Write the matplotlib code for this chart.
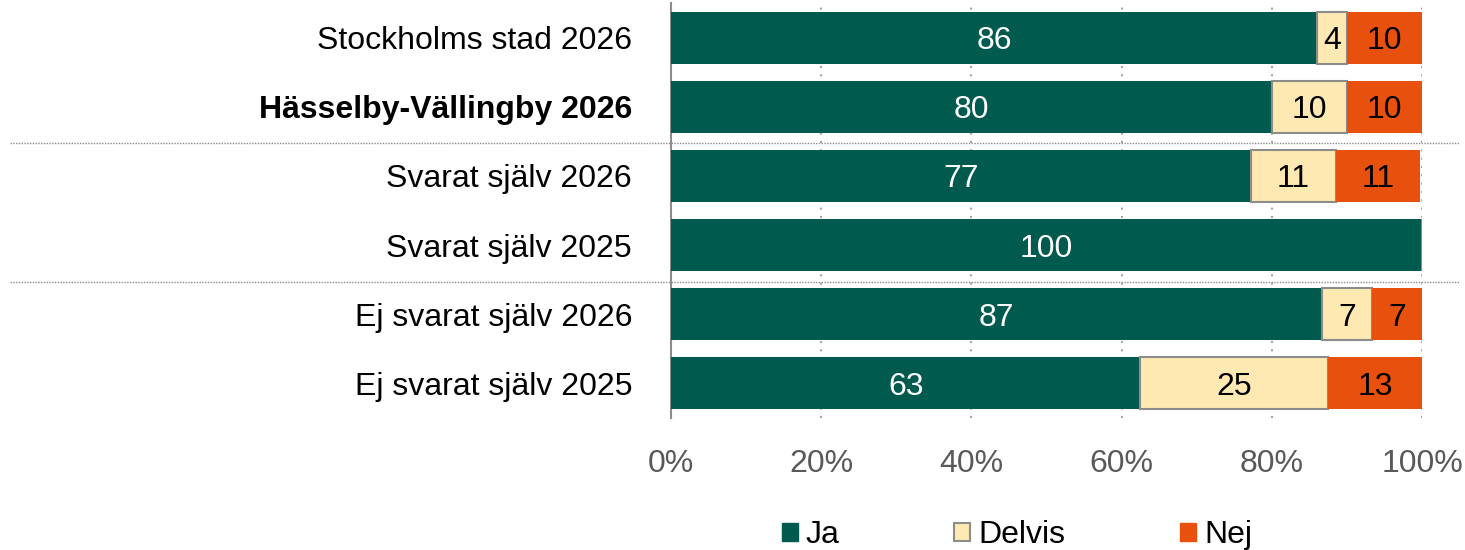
import numpy as np
import matplotlib.pyplot as plt
from matplotlib.patches import Patch
from matplotlib.transforms import blended_transform_factory

plt.rcParams['font.family'] = ['Liberation Sans', 'DejaVu Sans']

# Data
groups = ["Stockholms stad 2026", "Hässelby-Vällingby 2026", "Svarat själv 2026",
          "Svarat själv 2025", "Ej svarat själv 2026", "Ej svarat själv 2025"]
ja = [86, 80, 77.2, 100, 86.7, 62.5]
delvis = [4, 10, 11.3, 0, 6.7, 25]
nej = [10, 10, 11.3, 0, 6.7, 12.5]
series_names = ["Ja", "Delvis", "Nej"]
xticks = [0, 20, 40, 60, 80, 100]

col_ja = "#005a4e"
col_delvis = "#fde9b1"
col_nej = "#e8500e"
fs = 23

fig = plt.figure(figsize=(14.65, 5.5), dpi=100)
ax = fig.add_axes([671 / 1465, 1 - 418 / 550, (1422 - 671) / 1465, 415 / 550])

y = np.arange(len(groups))
h = 0.75
ax.barh(y, ja, height=h, color=col_ja, zorder=3)
ax.barh(y, delvis, left=ja, height=h, color=col_delvis, edgecolor="#8c8c8c",
        linewidth=1.5, zorder=3)
left_nej = np.array(ja) + np.array(delvis)
ax.barh(y, nej, left=left_nej, height=h, color=col_nej, zorder=3)

# value labels
for i in range(len(groups)):
    segs = [(0, ja[i], "white"), (ja[i], delvis[i], "black"),
            (left_nej[i], nej[i], "black")]
    for start, val, c in segs:
        if val > 0:
            ax.text(start + val / 2, y[i], str(int(val + 0.5)), ha="center",
                    va="center_baseline", color=c, fontsize=fs, zorder=4)

ax.set_xlim(0, 100)
ax.set_ylim(len(groups) - 0.5, -0.5)
ax.set_xticks(xticks)
ax.set_xticklabels([f"{t}%" for t in xticks], fontsize=fs, color="#595959")
ax.set_yticks(y)
ax.set_yticklabels(groups, fontsize=fs)
ax.get_yticklabels()[1].set_fontweight("bold")
ax.tick_params(length=0)
ax.tick_params(axis="y", pad=28)
ax.tick_params(axis="x", pad=22)

for s in ["top", "right", "bottom"]:
    ax.spines[s].set_visible(False)
ax.spines["left"].set_color("#8c8c8c")
ax.spines["left"].set_linewidth(1.5)
ax.xaxis.grid(True, linestyle=(0, (1, 3)), color="#a6a6a6", linewidth=1.5, zorder=0)
ax.set_axisbelow(True)

# group separators
tr = blended_transform_factory(fig.transFigure, ax.transData)
for sep in [1.53, 3.53]:
    ax.plot([10 / 1465, 1460 / 1465], [sep, sep], transform=tr, clip_on=False,
            color="#8c8c8c", linestyle=(0, (1, 1)), linewidth=1, zorder=1)

handles = [Patch(facecolor=col_ja, edgecolor=col_ja),
           Patch(facecolor=col_delvis, edgecolor="#8c8c8c", linewidth=1.5),
           Patch(facecolor=col_nej, edgecolor=col_nej)]
fig.legend(handles, series_names, loc="center", bbox_to_anchor=(1017 / 1465, 1 - 535 / 550),
           ncol=3, frameon=False, fontsize=fs, handlelength=0.5, handleheight=0.5,
           handletextpad=0.25, columnspacing=3.6)

fig.savefig("out.png", dpi=100)
